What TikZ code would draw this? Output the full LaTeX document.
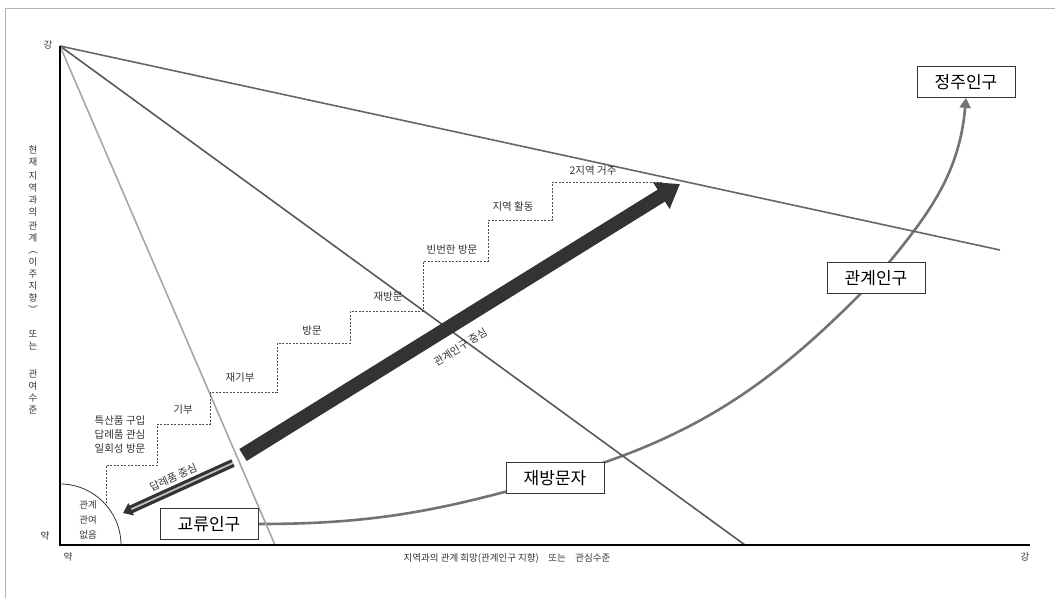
\documentclass[tikz,border=0pt]{standalone}
\usepackage{fontspec}
\setmainfont{Noto Sans CJK KR}
\usetikzlibrary{arrows.meta,backgrounds}

\tikzset{
  popbox/.style={draw=black!80, line width=0.8pt, fill=white, inner sep=2pt, minimum width=98pt, minimum height=31pt, font=\fontsize{17}{17}\selectfont},
  steplbl/.style={font=\fontsize{10.5}{12}\selectfont, text=black!80, inner sep=1pt},
  axislbl/.style={font=\fontsize{9.5}{11}\selectfont, text=black!80, inner sep=1pt},
  fanline/.style={line width=1.6pt},
  stairline/.style={black!70, line width=0.8pt, dash pattern=on 2pt off 1.5pt}
}

\begin{document}
\begin{tikzpicture}[x=1pt, y=-1pt]
	\useasboundingbox (0,0) rectangle (1055,598);
	% outer frame
	\draw[black!30, line width=0.8pt] (5,598) -- (5,8) -- (1055,8);

	% axes
	\coordinate (origin) at (60,545);
	\coordinate (ytop) at (60,46);
	\coordinate (xend) at (1030,545);

	% fan of lines from the top of the y axis
	\coordinate (fanA) at (1000,250);
	\coordinate (fanB) at (745,545);
	\coordinate (fanC) at (275,545);
	\draw[fanline, black!60] (ytop) -- (fanA);
	\draw[fanline, black!65] (ytop) -- (fanB);
	\draw[fanline, black!35] (ytop) -- (fanC);

	\draw[line width=2.6pt, black] (ytop) -- (origin) -- (xend);

	% no relation area
	\draw[black!80, line width=0.8pt] (60,484) arc[start angle=-90, end angle=0, radius=61];
	\node[steplbl, align=center, font=\fontsize{9.5}{15}\selectfont](none) at (88,520){관계\\관여\\없음};

	% axis labels
	\node[axislbl](ystrong) at (48,45){강};
	\node[axislbl](yweak) at (45,536){약};
	\node[axislbl](xweak) at (68,557){약};
	\node[axislbl](xstrong) at (1025,557){강};
	\node[axislbl](xlabel) at (507,558){지역과의 관계 희망(관계인구 지향)\quad 또는\quad 관심수준};
	\node[axislbl, align=center, font=\fontsize{9.5}{12}\selectfont](ylabel) at (33,280){현\\재\\[2pt]지\\역\\과\\의\\[2pt]관\\계\\︵\\이\\주\\지\\향\\︶\\[12pt]또\\는\\[16pt]관\\여\\수\\준};

	% stairs
	\draw[stairline] (106,503) -- (106,465) -- (157,465) -- (157,424) -- (210,424) -- (210,392)
		-- (277,392) -- (277,343) -- (350,343) -- (350,311) -- (423,311) -- (423,261)
		-- (488,261) -- (488,220) -- (552,220) -- (552,182) -- (663,182);
	\node[steplbl, align=center, font=\fontsize{10.5}{14}\selectfont](first) at (120,435){특산품 구입\\답례품 관심\\일회성 방문};
	\node[steplbl](give) at (183,410){기부};
	\node[steplbl](regive) at (240,378){재기부};
	\node[steplbl](visit) at (312,331){방문};
	\node[steplbl](revisit) at (388,297){재방문};
	\node[steplbl](often) at (452,250){빈번한 방문};
	\node[steplbl](local) at (513,207){지역 활동};
	\node[steplbl](tworeg) at (593,171){2지역 거주};

	% main arrow
	\coordinate (bigS) at (243,455);
	\coordinate (bigE) at (680,184);
	\draw[black!80, line width=14pt, -{Triangle[width=30pt,length=22pt]}] (bigS) -- node[steplbl, pos=0.47, sloped, below=10pt]{관계인구 중심} (bigE);

	% gift arrow
	\coordinate (giftS) at (233,463);
	\coordinate (giftE) at (123,513);
	\draw[black!80, line width=3.2pt, double=black!25, double distance=1.8pt, -{Triangle[width=13pt,length=9pt]}] (giftS) -- node[steplbl, pos=0.5, sloped, above=4pt]{답례품 중심} (giftE);

	% population boxes
	\node[popbox](gyoryu) at (209,524){교류인구};
	\node[popbox](jaebang) at (555,478){재방문자};
	\node[popbox](gwangye) at (876,278){관계인구};
	\node[popbox](jeongju) at (966,82){정주인구};

	\begin{scope}[on background layer]
	\draw[black!55, line width=2.6pt, -{Triangle[width=11pt,length=10pt]}] (gyoryu.east) to[out=0,in=196] (jaebang.center)
		to[out=16,in=226] (gwangye.center) to[out=50,in=-95] (jeongju.south);
	\end{scope}

\end{tikzpicture}
\end{document}
